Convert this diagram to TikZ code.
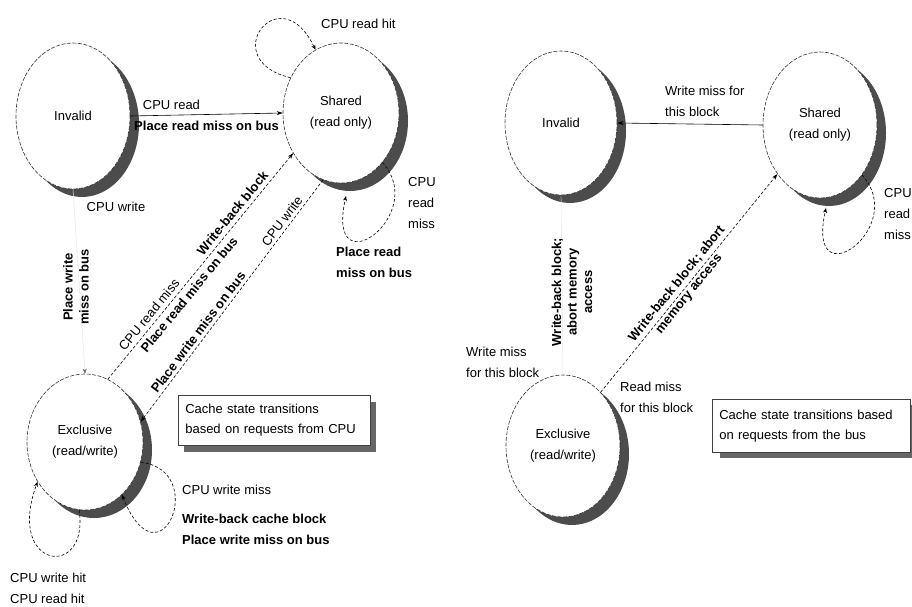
\documentclass[tikz,border=0pt]{standalone}
\usepackage{fontspec}
\setmainfont{Liberation Sans}
\usetikzlibrary{shapes.geometric,arrows.meta}
\begin{document}
\begin{tikzpicture}[x=1pt,y=-1pt,
  font=\fontsize{13}{21}\selectfont,
  bold/.style={font=\fontsize{13}{21}\selectfont\bfseries},
  state/.style={ellipse, draw=black!80, line width=0.6pt, dash pattern=on 4pt off 1.5pt,
    fill=white, inner sep=0pt, align=center},
  stshadow/.style={ellipse, fill=black!70, inner sep=0pt},
  note/.style={draw=black!75, line width=0.6pt, fill=white, align=left,
    inner xsep=7pt, inner ysep=4pt, font=\fontsize{13}{20}\selectfont},
  noteshadow/.style={fill=black!60, inner sep=0pt},
  conn/.style={line width=0.6pt, -{Stealth[length=6pt,width=4pt]}},
  dconn/.style={line width=0.6pt, dash pattern=on 3pt off 2pt, -{Stealth[length=6pt,width=4pt]}},
  dloop/.style={line width=0.6pt, dash pattern=on 3pt off 2pt, -{Stealth[length=5pt,width=4pt]}},
  faint/.style={draw=black!10, line width=0.5pt, -{Stealth[length=5pt,width=4pt,color=black!60]}},
  lbl/.style={inner sep=0pt}
]
\fill[white] (0,0) rectangle (912,607);
\useasboundingbox (0,0) rectangle (912,607);

% ---------- shadows ----------
\node[stshadow, minimum width=114pt, minimum height=146pt] (inv1s) at (82,124) {};
\node[stshadow, minimum width=116pt, minimum height=140pt] (sh1s) at (350,121) {};
\node[stshadow, minimum width=116pt, minimum height=136pt] (ex1s) at (94,450) {};
\node[stshadow, minimum width=112pt, minimum height=144pt] (inv2s) at (570,131) {};
\node[stshadow, minimum width=114pt, minimum height=146pt] (sh2s) at (829,133) {};
\node[stshadow, minimum width=114pt, minimum height=142pt] (ex2s) at (572,454) {};
\node[noteshadow, anchor=north west, minimum width=192pt, minimum height=50pt] (box1s) at (184,402) {};
\node[noteshadow, anchor=north west, minimum width=198pt, minimum height=53pt] (box2s) at (720,405) {};

% ---------- left diagram: requests from CPU ----------
\node[state, minimum width=114pt, minimum height=146pt] (inv1) at (73,116) {Invalid};
\node[state, minimum width=116pt, minimum height=140pt] (sh1) at (341,113) {Shared\\(read only)};
\node[state, minimum width=116pt, minimum height=136pt] (ex1) at (85,442) {Exclusive\\(read/write)};

\node[note, anchor=north west, minimum width=192pt, minimum height=50pt, text width=178pt] (box1) at (178,395)
  {Cache state transitions\\based on requests from CPU};

\draw[conn] (inv1.east) -- node[lbl, above=5pt, pos=0.27] (l1) {CPU read}
  node[lbl, below=6pt, pos=0.5, bold] (l2) {Place read miss on bus} (sh1.west);

\draw[dloop] (sh1.145) .. controls (215,60) and (280,-25) .. (sh1.112);
\node[lbl, anchor=west] (l3) at (321,24) {CPU read hit};

\coordinate (s1end) at (346,196);
\draw[dloop] (sh1.310) .. controls (430,215) and (325,290) .. (s1end);
\node[lbl, anchor=west, align=left] (l4) at (408,203) {CPU\\read\\miss};
\node[lbl, anchor=west, align=left, bold] (l5) at (336,262) {Place read\\miss on bus};

\draw[faint] (inv1.south) -- (ex1.north);
\node[lbl] (l6) at (116,207) {CPU write};
\node[lbl, rotate=90, align=center, font=\fontsize{13}{16}\selectfont\bfseries] (l7) at (76,287) {Place write\\miss on bus};

\draw[dconn] (ex1.70) -- node[lbl, sloped, above=4pt, pos=0.26] (l8) {CPU read miss}
  node[lbl, sloped, above=4pt, pos=0.71, bold] (l9) {Write-back block}
  node[lbl, sloped, below=4pt, pos=0.40, bold] (l10) {Place read miss on bus} (sh1.220);
\draw[dconn] (sh1.255) -- node[lbl, sloped, above=3pt, pos=0.19] (l11) {CPU write}
  node[lbl, sloped, above=3pt, pos=0.65, bold] (l12) {Place write miss on bus} (ex1.20);

\draw[dloop] (ex1.-20) .. controls (210,470) and (160,590) .. (ex1.-55);
\node[lbl, anchor=west] (l13) at (182,490) {CPU write miss};
\node[lbl, anchor=west, align=left, bold] (l14) at (182,529) {Write-back cache block\\Place write miss on bus};

\draw[dloop] (ex1.265) .. controls (90,580) and (5,570) .. (ex1.220);
\node[lbl, anchor=west, align=left] (l15) at (10,588) {CPU write hit\\CPU read hit};

% ---------- right diagram: requests from the bus ----------
\node[state, minimum width=112pt, minimum height=144pt] (inv2) at (561,123) {Invalid};
\node[state, minimum width=114pt, minimum height=146pt] (sh2) at (820,125) {Shared\\(read only)};
\node[state, minimum width=114pt, minimum height=142pt] (ex2) at (563,446) {Exclusive\\(read/write)};

\node[note, anchor=north west, minimum width=198pt, minimum height=53pt, text width=184pt] (box2) at (712,399)
  {Cache state transitions based\\on requests from the bus};

\draw[conn] (sh2.west) -- (inv2.east);
\node[lbl, anchor=west, align=left] (r1) at (665,101) {Write miss for\\this block};

\coordinate (s2end) at (826,208);
\draw[dloop] (sh2.310) .. controls (910,227) and (805,302) .. (s2end);
\node[lbl, anchor=west, align=left] (r2) at (884,214) {CPU\\read\\miss};

\draw[faint] (ex2.north) -- (inv2.south);
\node[lbl, rotate=90, align=center, font=\fontsize{13}{15.5}\selectfont\bfseries] (r3) at (572,292) {Write-back block;\\abort memory\\access};
\node[lbl, anchor=west, align=left] (r4) at (466,362) {Write miss\\for this block};

\draw[dconn] (ex2.55) -- node[lbl, sloped, above=3pt, pos=0.47, bold] (r5) {Write-back block; abort}
  node[lbl, sloped, below=3pt, pos=0.47, bold] (r6) {memory access} (sh2.229);
\node[lbl, anchor=west, align=left] (r7) at (620,397) {Read miss\\for this block};
\end{tikzpicture}
\end{document}
